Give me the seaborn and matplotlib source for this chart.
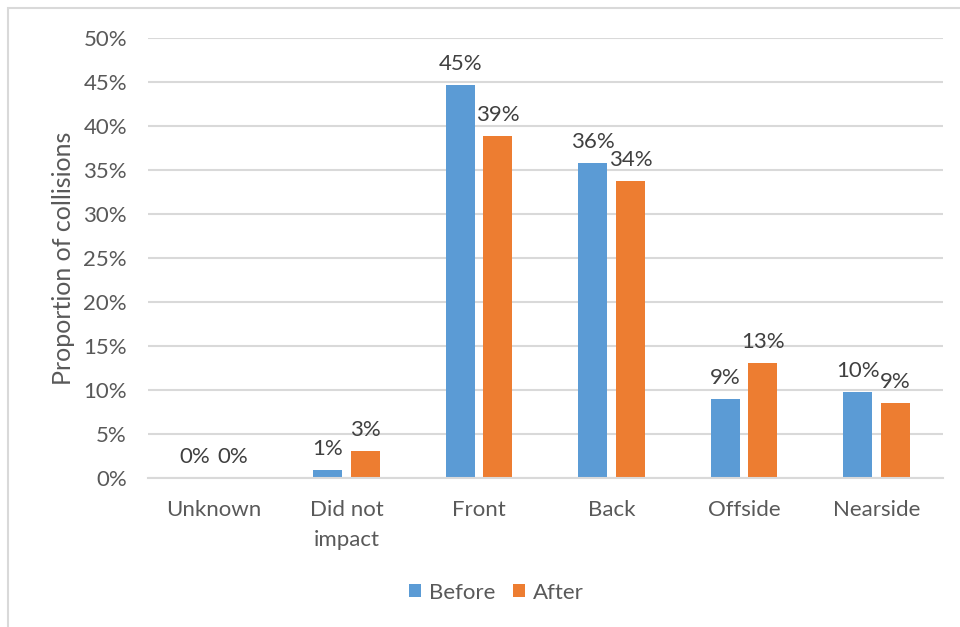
import numpy as np
import pandas as pd
import matplotlib
matplotlib.use("Agg")
import matplotlib.pyplot as plt
import matplotlib.patches as mpatches
import seaborn as sns

# values (proportion of collisions)
categories = ["Unknown", "Did not\nimpact", "Front", "Back", "Offside", "Nearside"]
before = [0.0, 0.0087, 0.4466, 0.3585, 0.0898, 0.0974]
after = [0.0, 0.0307, 0.3890, 0.3375, 0.1310, 0.0856]
series = ["Before", "After"]
colours = ["#5b9bd5", "#ed7d31"]
yticks = [0, 0.05, 0.10, 0.15, 0.20, 0.25, 0.30, 0.35, 0.40, 0.45, 0.50]

df = pd.DataFrame({
    "category": categories * 2,
    "series": ["Before"] * len(categories) + ["After"] * len(categories),
    "value": before + after,
})

sns.set_theme(style="white")
plt.rcParams["font.family"] = ["Lato", "DejaVu Sans"]

fig = plt.figure(figsize=(9.6, 6.27), dpi=100)
ax = fig.add_axes([0.154, 0.2376, 0.828, 0.7014])

sns.barplot(data=df, x="category", y="value", hue="series", hue_order=series,
            palette=colours, width=0.57, gap=0.23, ax=ax, legend=True,
            saturation=1, edgecolor="none")

ax.set_ylim(0, 0.5)
ax.set_yticks(yticks)
ax.set_yticklabels([f"{int(round(t * 100))}%" for t in yticks])
ax.yaxis.grid(True, color="#d9d9d9", linewidth=1.5)
ax.set_axisbelow(True)
for s in ["top", "right", "left"]:
    ax.spines[s].set_visible(False)
ax.spines["bottom"].set_color("#d9d9d9")
ax.spines["bottom"].set_linewidth(1.5)
ax.tick_params(axis="both", length=0, labelsize=16, colors="#595959")
ax.tick_params(axis="y", pad=15)
ax.tick_params(axis="x", pad=16)
for lbl in ax.get_xticklabels():
    lbl.set_linespacing(1.6)
ax.set_xlabel("")
ax.set_ylabel("Proportion of collisions", fontsize=18, color="#595959", labelpad=6)

# data labels
for container in ax.containers:
    labels = [f"{int(round(v * 100))}%" for v in container.datavalues]
    ax.bar_label(container, labels=labels, padding=8, fontsize=16, color="#404040")

handles, labels = ax.get_legend_handles_labels()
ax.get_legend().remove()
leg = fig.legend(handles, labels, loc="center", bbox_to_anchor=(0.517, 0.055), ncol=2,
                 frameon=False, fontsize=16, handlelength=0.55, handleheight=0.55,
                 handletextpad=0.35, columnspacing=0.8)
for t in leg.get_texts():
    t.set_color("#595959")

# chart area border (cropped on right and bottom in the reference)
border = mpatches.Rectangle((8 / 960, -0.1), 1.2, 1.1 - 8 / 627,
                            transform=fig.transFigure, fill=False,
                            edgecolor="#d9d9d9", linewidth=1.5, clip_on=False)
fig.patches.append(border)

fig.savefig("out.png", dpi=100)
